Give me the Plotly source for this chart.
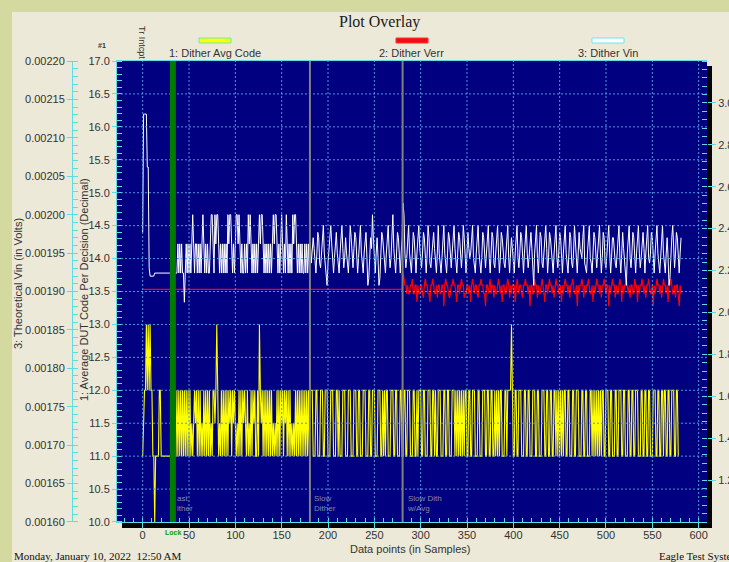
import plotly.graph_objects as go

# ---------------- data ----------------
X_TICKS = [0, 50, 100, 150, 200, 250, 300, 350, 400, 450, 500, 550, 600]
Y1_TICKS = [10.0, 10.5, 11.0, 11.5, 12.0, 12.5, 13.0, 13.5, 14.0, 14.5,
            15.0, 15.5, 16.0, 16.5, 17.0]
Y2_TICKS = [1.2, 1.4, 1.6, 1.8, 2.0, 2.2, 2.4, 2.6, 2.8, 3.0]
Y3_TICKS = [0.00160, 0.00165, 0.00170, 0.00175, 0.00180, 0.00185, 0.00190,
            0.00195, 0.00200, 0.00205, 0.00210, 0.00215, 0.00220]

X_RANGE = [-27.7, 609.0]
Y1_RANGE = [9.9999, 17.0001]
Y2_RANGE = [1.0, 3.2]
Y3_RANGE = [0.0015999, 0.0022001]

SERIES_NAMES = ["1: Dither Avg Code", "2: Dither Verr", "3: Dither Vin"]
MARKER_X = [32.6, 180.5, 280.5]
MARKER_TEXT = ["ast<br>ither", "Slow<br>Dither", "Slow Dith<br>w/Avg"]

# series 1: average DUT code (one character per sample)
AVG_CODE_LEVELS = {"z": 10.0, "a": 11.0, "m": 11.5, "b": 12.0, "c": 13.0}
AVG_CODE = (
    "ambbcbcbcbbaazaaaabb" "aaaaaaaaaa" "aaaaaaa"
    "bababababa" "bababamamb" "mbababamab" "abababamab" "bmbcbamaba"
    "babababmba" "bmbmamabab" "abmbmabama" "babmbaabac" "bmbabababa"
    "babamamaba" "babmbabmba" "babamamaba" "bababababababa"
    "bbbaaabbaaabbbaabbba" "aabbbaaabbabaaabbbaa" "abbbaaabbbaabbaaabbb"
    "aaabbaabbbaaabbbaaba" "babbaaabbbaabbaaabba" "abbaabbbaaabbaababbb"
    "aabbaaabbbaabbabaabb" "baaabbaabbaaabbbabab" "ababababbaabbaabbbaa"
    "abbaaabbbaabbaabbaab" "abababbaaabbabbbbcba" "abbaabbbaaabbaabbaaa"
    "bbbaabbaaabbbaabbaab" "baabbabababababbaabb" "aaabbaabbbaaabbaabba"
    "aabbababababababbaab" "bbaabbaaabbaabbbaabb" "aaabbaabbaabbbaaabba"
    "abbaabbaaabbbaabbaab" "babbaabbaabbbaabba"
)

# series 2: dither Verr (one character per sample)
VERR_LEVELS = {"R": 2.11, "A": 2.19, "B": 2.16, "C": 2.13, "E": 2.09,
               "F": 2.07, "G": 2.05, "H": 2.03}
VERR = (
    "RRRRRRRRRR" "RRRRRRRRRR" "RRRRRRRRRR" "RRRRRRRRRR" "RRRRRRRRRR"
    "RRRRRRRRRR" "RRRRRRRRRR" "RRRRRRRRRR" "RRRRRRRRRR" "RRRRRRRRRR"
    "RRRRRRRRRR" "RRRRRRRRRR" "RRRRRRRRRR" "RRRRRRRRRR" "RRRRRRRRRR"
    "RRRRRRRRRR" "RRRRRRRRRR" "RRRRRRRRRR" "RRRRRRRRRR" "RRRRRRRRRR"
    "RRRRRRRRRR" "RRRRRRRRRR" "RRRRRRRRRR" "RRRRRRRRRR" "RRRRRRRRRR"
    "RRRRRRRRRR" "RRRRRRRRRR" "RRRRRRRRRR"
    "RABCCECEECCBEECCGCEE" "CCEFCBCCEEGCCBCEECFC" "CEECCHCBCCEFECCBCCEG"
    "CCECBCCFEECCECGCBCEC" "CEFCCBCCEEHCCECBECCF" "CEECBCECGCCEECBCFCEC"
    "CCGCBCECCEFCCBCCECHC" "CEEBCCFCEECBCEGCCECB" "CCECFCBCCEECGCECBCCE"
    "CFCCBCEECHCECCBCFCEC" "CBCEECGCECBCCECFCCBC" "ECCHCECBCCFCEECBCGCE"
    "CCBCECFCCEEBCCGCECCB" "CECFCCBCEECHCECBCCEC" "FCBCCECGCCBCEECFCCEH"
    "CE"
)

# series 3: dither Vin in volts (one character per sample)
VIN_LEVELS = {"a": 0.001886, "b": 0.001908, "c": 0.001917, "u": 0.001920,
              "d": 0.001924, "e": 0.001931, "f": 0.001937, "g": 0.001944,
              "h": 0.001950, "i": 0.001956, "j": 0.001962, "k": 0.001970,
              "l": 0.001977, "m": 0.001986, "n": 0.002000, "o": 0.002015,
              "q": 0.002062, "s": 0.002131}
VIN = (
    "lssssqqe" "uuuuu" "dddddddddd" "dddddddddd" "dddd"
    "djdjdjddad" "jdjdjdjnjd" "jjdjdjdjnj" "djdjddjnnj" "dnjnnjdjdj"
    "djdjdnjnnj" "djdjnnjnjd" "jddjdjdnjn" "jdjdjdjdjn" "jnnjdjdjdj"
    "djdjnjnnjd" "jdjnjdjdnj" "djdjdnjnnj" "djdjdjddjdjdjd"
    "jfhkigdhlkfehkmhecbf" "hkmjfdgklhedhlmiegkh" "fdhmkgeilkhdgkmhfdhk"
    "lgbchkinkgdhkgbchlki" "fdhkmhegkniedhlkgdhk" "onhegkmhedhlkfdhkmig"
    "ehlkgdhmkfehkligdhmh" "edgkmhfdhlkgehkmifdh" "lkgehmkfdhlighkmgedh"
    "kmhfdglkhehkmgdhlkfe" "hkmhdglkhfehlmgdhkif" "dhkmgehlkfdhkmhegkli"
    "cbhkmgdhlkfehkmidglk" "hfdhkmgehlkgdhkmhfdh" "lkfehmkgdhlihgkmfedh"
    "kmgfdhlkiehkmhdglkfe" "hlmhdgkkhfehkmgdhlif" "cbhkmgehlkfdhkmhegkl"
    "idhkmgfhlkgdhkmhedgk" "mhfdhkgbchkmgehlkfdhk"
)

avg_code = [AVG_CODE_LEVELS[ch] for ch in AVG_CODE]
verr = [VERR_LEVELS[ch] for ch in VERR]
vin = [VIN_LEVELS[ch] for ch in VIN]

# ---------------- geometry / style ----------------
FIG_W, FIG_H = 729, 562
ML, MR, MT, MB = 10, 10, 61, 40
PW = FIG_W - ML - MR
PH = FIG_H - MT - MB


def px2xp(px):
    return (px - ML) / PW


def py2yp(py):
    return (FIG_H - MB - py) / PH


XD = [px2xp(117), px2xp(707)]
CYAN = "#5cdde6"
GRID = "#4f96dc"
OLIVE = "#d4d9a0"
BEIGE = "#ece9d8"
SANS = "Liberation Sans, Arial, sans-serif"
SERIF = "Liberation Serif, Times New Roman, serif"
TICKFONT = dict(family=SANS, size=11, color="#333333")

fig = go.Figure()
fig.add_trace(go.Scatter(x=list(range(len(avg_code))), y=avg_code, mode="lines",
                         name=SERIES_NAMES[0], line=dict(color="#ffff00", width=1.1),
                         yaxis="y", hoverinfo="skip"))
fig.add_trace(go.Scatter(x=list(range(len(verr))), y=verr, mode="lines",
                         name=SERIES_NAMES[1], line=dict(color="#ff0000", width=1.2),
                         yaxis="y2", hoverinfo="skip"))
fig.add_trace(go.Scatter(x=list(range(len(vin))), y=vin, mode="lines",
                         name=SERIES_NAMES[2], line=dict(color="#ffffff", width=1),
                         yaxis="y3", hoverinfo="skip"))

shapes = []
# window frame strips
shapes.append(dict(type="rect", xref="paper", yref="paper", x0=px2xp(-5), x1=px2xp(740),
                   y0=py2yp(12), y1=py2yp(-5), fillcolor=OLIVE, line=dict(width=0), layer="below"))
shapes.append(dict(type="rect", xref="paper", yref="paper", x0=px2xp(-5), x1=px2xp(12),
                   y0=py2yp(570), y1=py2yp(-5), fillcolor=OLIVE, line=dict(width=0), layer="below"))
# plot drop shadow
shapes.append(dict(type="rect", xref="paper", yref="paper", x0=px2xp(707), x1=px2xp(712),
                   y0=py2yp(528), y1=py2yp(66), fillcolor="#000000", line=dict(width=0), layer="below"))
shapes.append(dict(type="rect", xref="paper", yref="paper", x0=px2xp(122), x1=px2xp(712),
                   y0=py2yp(528), y1=py2yp(522), fillcolor="#000000", line=dict(width=0), layer="below"))
# dotted grid drawn over the traces
for v in Y1_TICKS[1:-1]:
    shapes.append(dict(type="line", xref="x domain", yref="y", x0=0, x1=1, y0=v, y1=v,
                       line=dict(color=GRID, width=1, dash="2px,2px"), layer="above"))
for v in X_TICKS:
    shapes.append(dict(type="line", xref="x", yref="y domain", x0=v, x1=v, y0=0, y1=1,
                       line=dict(color=GRID, width=1, dash="2px,2px"), layer="above"))
# event marker lines
MARKER_STYLE = [("#007a00", 6), ("#808080", 2), ("#808080", 2)]
for xv, (col, w) in zip(MARKER_X, MARKER_STYLE):
    shapes.append(dict(type="line", xref="x", yref="y domain", x0=xv, x1=xv, y0=0, y1=1,
                       line=dict(color=col, width=w), layer="above"))
# legend swatches
SWATCHES = [(199, "#ffff00", "#70e8b8"), (396, "#ee1010", "#ff3030"), (592, "#ffffff", "#6fe6f0")]
for x0, fill, edge in SWATCHES:
    shapes.append(dict(type="rect", xref="paper", yref="paper", x0=px2xp(x0), x1=px2xp(x0 + 32),
                       y0=py2yp(43), y1=py2yp(38), fillcolor=fill, line=dict(color=edge, width=1),
                       layer="above"))

ann = []
ann.append(dict(text="Plot Overlay", xref="paper", yref="paper", x=px2xp(379), y=py2yp(22),
                showarrow=False, xanchor="center", yanchor="middle",
                font=dict(family=SERIF, size=16, color="#1a1a1a")))
for name, cx in zip(SERIES_NAMES, [214.5, 411.5, 607.5]):
    ann.append(dict(text=name, xref="paper", yref="paper", x=px2xp(cx), y=py2yp(53),
                    showarrow=False, xanchor="center", yanchor="middle",
                    font=dict(family=SANS, size=11, color="#333333")))
ann.append(dict(text="<b>#1</b>", xref="paper", yref="paper", x=px2xp(101.5), y=py2yp(45.5),
                showarrow=False, xanchor="center", yanchor="middle",
                font=dict(family=SANS, size=7, color="#333333")))
ann.append(dict(text="Tr Intcpt", xref="paper", yref="paper", x=px2xp(142), y=py2yp(42),
                showarrow=False, xanchor="center", yanchor="middle", textangle=90,
                font=dict(family=SANS, size=9, color="#333333")))
ann.append(dict(text="Data points (in Samples)", xref="paper", yref="paper", x=px2xp(410),
                y=py2yp(549), showarrow=False, xanchor="center", yanchor="middle",
                font=dict(family=SANS, size=11, color="#333333")))
ann.append(dict(text="1: Average DUT Code Per Decision (Decimal)", xref="paper", yref="paper",
                x=px2xp(84), y=py2yp(290), showarrow=False, xanchor="center", yanchor="middle",
                textangle=-90, font=dict(family=SANS, size=11, color="#333333")))
ann.append(dict(text="3: Theoretical Vin (in Volts)", xref="paper", yref="paper",
                x=px2xp(18), y=py2yp(284), showarrow=False, xanchor="center", yanchor="middle",
                textangle=-90, font=dict(family=SANS, size=11, color="#333333")))
ann.append(dict(text="Monday, January 10, 2022  12:50 AM", xref="paper", yref="paper",
                x=px2xp(12), y=py2yp(556), showarrow=False, xanchor="left", yanchor="middle",
                font=dict(family=SERIF, size=11, color="#111111")))
ann.append(dict(text="Eagle Test Systems", xref="paper", yref="paper",
                x=px2xp(657), y=py2yp(556), showarrow=False, xanchor="left", yanchor="middle",
                font=dict(family=SERIF, size=11, color="#111111")))
ann.append(dict(text="<b>Lock</b>", xref="x", yref="paper", x=MARKER_X[0], y=py2yp(532),
                showarrow=False, xanchor="center", yanchor="middle",
                font=dict(family=SANS, size=7, color="#00a000")))
for xv, txt in zip(MARKER_X, MARKER_TEXT):
    ann.append(dict(text=txt, xref="x", yref="paper", x=xv, y=py2yp(503), xshift=2,
                    showarrow=False, xanchor="left", yanchor="middle", align="left",
                    font=dict(family=SANS, size=8, color="#8a8aa6")))

fig.update_layout(
    template="none",
    width=FIG_W, height=FIG_H,
    margin=dict(l=ML, r=MR, t=MT, b=MB, pad=0),
    paper_bgcolor=BEIGE,
    plot_bgcolor="#000080",
    showlegend=False,
    shapes=shapes,
    annotations=ann,
    xaxis=dict(domain=XD, range=X_RANGE, tickmode="array", tickvals=X_TICKS,
               ticktext=[str(v) for v in X_TICKS], ticks="outside", ticklen=6,
               tickcolor=CYAN, tickwidth=1, showline=True, linecolor=CYAN, linewidth=1,
               mirror=True, showgrid=False, zeroline=False, tickfont=TICKFONT,
               ticklabelstandoff=-3,
               minor=dict(tickmode="linear", tick0=0, dtick=10, ticks="inside", ticklen=4,
                          tickcolor=CYAN, showgrid=False)),
    yaxis=dict(domain=[0, 1], range=Y1_RANGE, tickmode="array", tickvals=Y1_TICKS,
               ticktext=[f"{v:.1f}" for v in Y1_TICKS], ticks="outside", ticklen=4,
               tickcolor=CYAN, showline=True, linecolor=CYAN, linewidth=1,
               showgrid=False, zeroline=False, tickfont=TICKFONT,
               minor=dict(tickmode="linear", tick0=10, dtick=0.1, ticks="inside", ticklen=5,
                          tickcolor=CYAN, showgrid=False)),
    yaxis2=dict(overlaying="y", side="right", anchor="x", range=Y2_RANGE, tickmode="array",
                tickvals=Y2_TICKS, ticktext=[f"{v:.1f}" for v in Y2_TICKS], ticks="outside",
                ticklen=8, tickcolor=CYAN, showline=False, showgrid=False, zeroline=False,
                tickfont=TICKFONT,
                minor=dict(tickmode="linear", tick0=1.0, dtick=0.04, ticks="inside", ticklen=5,
                           tickcolor=CYAN, showgrid=False)),
    yaxis3=dict(overlaying="y", side="left", anchor="free", position=px2xp(72), range=Y3_RANGE,
                tickmode="array", tickvals=Y3_TICKS, ticktext=[f"{v:.5f}" for v in Y3_TICKS],
                ticks="outside", ticklen=5, tickcolor=CYAN, showline=True, linecolor=CYAN,
                linewidth=1, showgrid=False, zeroline=False, tickfont=TICKFONT,
                minor=dict(tickmode="linear", tick0=0.0016, dtick=0.00001, ticks="inside",
                           ticklen=5, tickcolor=CYAN, showgrid=False)),
)

fig.write_html("out.html", config={"displayModeBar": False},
               post_script="document.body.style.margin='0';")
